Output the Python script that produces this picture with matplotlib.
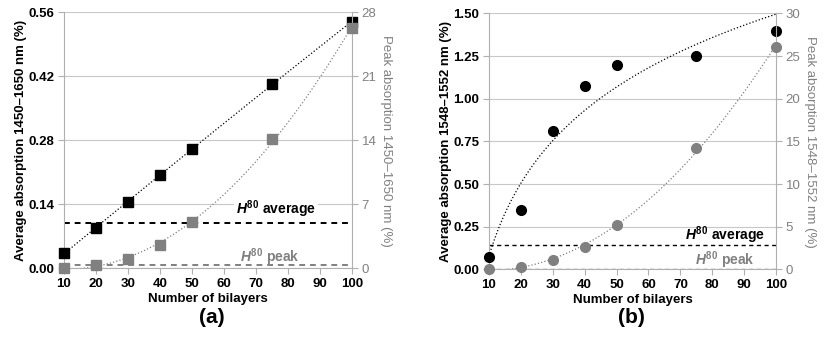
import numpy as np
import matplotlib.pyplot as plt

plt.rcParams['font.family'] = ['Liberation Sans', 'DejaVu Sans']
plt.rcParams['mathtext.fontset'] = 'custom'
plt.rcParams['mathtext.it'] = 'Liberation Sans:italic:bold'
plt.rcParams['mathtext.rm'] = 'Liberation Sans:bold'

bilayers = [10, 20, 30, 40, 50, 75, 100]

# panel (a): 1450-1650 nm
avg_a = [0.033, 0.089, 0.146, 0.204, 0.261, 0.403, 0.540]
peak_a = [0.0, 0.33, 1.05, 2.58, 5.07, 14.2, 26.3]
h80_avg_a = 0.099
h80_peak_a = 0.33

# panel (b): 1548-1552 nm
avg_b = [0.07, 0.347, 0.81, 1.076, 1.197, 1.25, 1.40]
peak_b = [0.0, 0.3, 1.09, 2.6, 5.16, 14.26, 26.1]
h80_avg_b = 0.146
h80_peak_b = 0.07

GRAY = '#808080'
AXC = '#b0b0b0'
FS = 9.5


def style(ax, ax2, yticks, y2ticks, ylab, y2lab):
    ax.set_xlim(10, 100)
    ax.set_xticks(range(10, 101, 10))
    ax.set_ylim(yticks[0], yticks[-1])
    ax.set_yticks(yticks)
    ax.set_yticklabels([f'{t:.2f}' for t in yticks], fontweight='bold')
    ax2.set_ylim(y2ticks[0], y2ticks[-1])
    ax2.set_yticks(y2ticks)
    ax.grid(axis='y', color='#c8c8c8', lw=0.8)
    ax.set_axisbelow(True)
    for a in (ax, ax2):
        for s in a.spines.values():
            s.set_visible(False)
    ax.spines['left'].set_visible(True)
    ax.spines['left'].set_color(AXC)
    ax.spines['bottom'].set_visible(True)
    ax.spines['bottom'].set_color(AXC)
    ax2.spines['right'].set_visible(True)
    ax2.spines['right'].set_color(AXC)
    for lbl in ax.get_xticklabels():
        lbl.set_fontweight('bold')
    ax.tick_params(axis='both', labelsize=FS, colors=AXC, labelcolor='black', length=4, width=0.8, pad=3)
    ax2.tick_params(axis='y', labelsize=FS, colors=AXC, labelcolor=GRAY, length=4, width=0.8, pad=3)
    ax.set_xlabel('Number of bilayers', fontsize=FS, fontweight='bold', labelpad=2)
    ax.set_ylabel(ylab, fontsize=FS, fontweight='bold', labelpad=1)
    ax2.set_ylabel(y2lab, fontsize=FS, color=GRAY, rotation=270, labelpad=11)


fig = plt.figure(figsize=(8.3, 3.49), dpi=100)
axa = fig.add_axes([0.0771, 0.231, 0.347, 0.7335])
axa2 = axa.twinx()
axb = fig.add_axes([0.589, 0.228, 0.346, 0.7335])
axb2 = axb.twinx()

xs = np.linspace(10, 100, 200)
x = np.array(bilayers)

# (a) trend lines
pa = np.polyfit(x, avg_a, 2)
axa.plot(xs, np.polyval(pa, xs), color='black', ls=':', lw=0.9)
pa2 = np.polyfit(x, peak_a, 2)
axa2.plot(xs, np.polyval(pa2, xs), color=GRAY, ls=':', lw=0.9)
axa.axhline(h80_avg_a, color='black', ls='--', lw=1.4, dashes=(3, 2.5))
axa2.axhline(h80_peak_a, color=GRAY, ls='--', lw=1.4, dashes=(3, 2.5))
axa2.plot(bilayers, peak_a, 's', color=GRAY, ms=6.5, clip_on=False, zorder=5)
axa.plot(bilayers, avg_a, 's', color='black', ms=6.5, clip_on=False, zorder=5)

# (b) trend lines
pb = np.polyfit(np.log(x), avg_b, 1)
axb.plot(xs, np.polyval(pb, np.log(xs)), color='black', ls=':', lw=0.9)
pb2 = np.polyfit(x, peak_b, 2)
axb2.plot(xs, np.polyval(pb2, xs), color=GRAY, ls=':', lw=0.9)
axb.axhline(h80_avg_b, color='black', ls='--', lw=1.0, dashes=(3, 2.5))
axb2.axhline(h80_peak_b, color=GRAY, ls='--', lw=1.0, dashes=(3, 2.5))
axb2.plot(bilayers, peak_b, 'o', color=GRAY, ms=7, clip_on=False, zorder=5)
axb.plot(bilayers, avg_b, 'o', color='black', ms=7, clip_on=False, zorder=5)

style(axa, axa2, [0, 0.14, 0.28, 0.42, 0.56], [0, 7, 14, 21, 28],
      'Average absorption 1450\u20131650 nm (%)', 'Peak absorption 1450\u20131650 nm (%)')
style(axb, axb2, [0, 0.25, 0.5, 0.75, 1.0, 1.25, 1.5], [0, 5, 10, 15, 20, 25, 30],
      'Average absorption 1548\u20131552 nm (%)', 'Peak absorption 1548\u20131552 nm (%)')

axa2.patch.set_visible(False)
axb2.patch.set_visible(False)

bbox = dict(facecolor='white', edgecolor='none', pad=1.5)
axa.text(76.3, 0.130, '$H^{\\mathrm{80}}$ average', fontsize=10, fontweight='bold',
         ha='center', va='center', bbox=bbox)
axa.text(74.4, 0.025, '$H^{\\mathrm{80}}$ peak', fontsize=10, fontweight='bold', color=GRAY,
         ha='center', va='center')
axb.text(84, 0.198, '$H^{\\mathrm{80}}$ average', fontsize=10, fontweight='bold',
         ha='center', va='center')
axb.text(84, 0.054, '$H^{\\mathrm{80}}$ peak', fontsize=10, fontweight='bold', color=GRAY,
         ha='center', va='center')

fig.text(0.255, 0.09, '(a)', fontsize=15, fontweight='bold', ha='center', va='center')
fig.text(0.761, 0.09, '(b)', fontsize=15, fontweight='bold', ha='center', va='center')

fig.savefig('out.png', dpi=100)
